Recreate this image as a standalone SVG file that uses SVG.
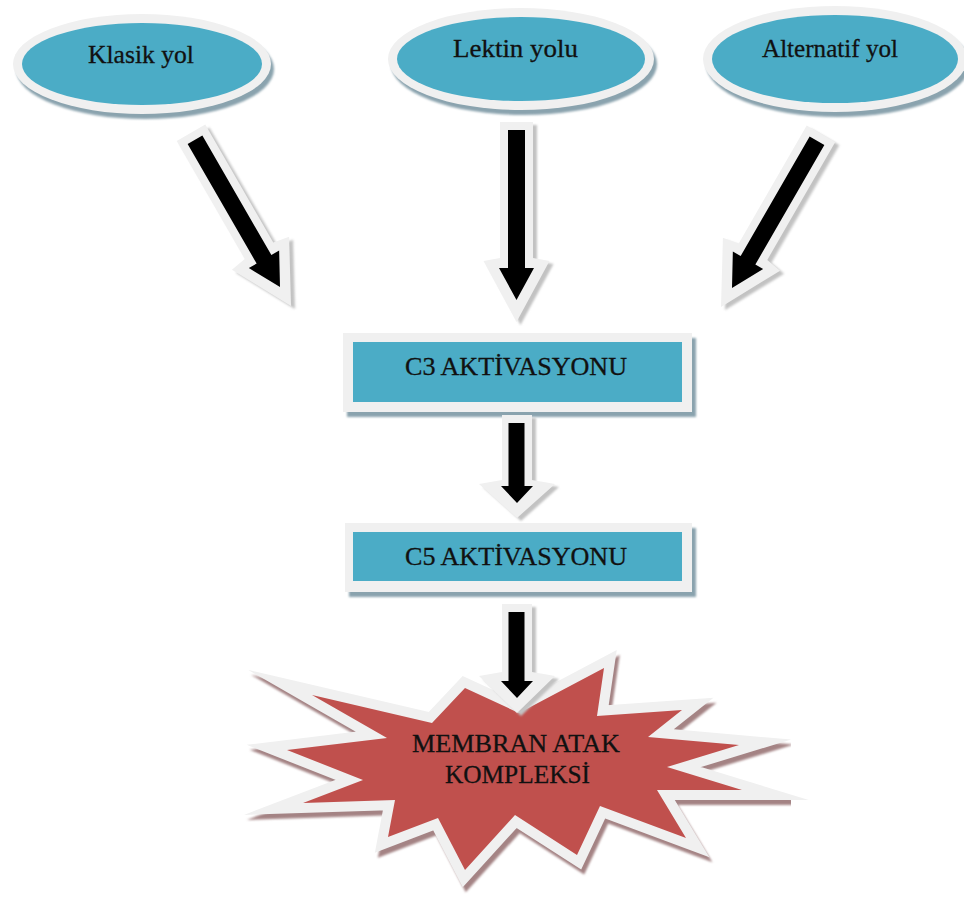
<svg xmlns="http://www.w3.org/2000/svg" width="964" height="897" viewBox="0 0 964 897">
  <style>
    .lbl { font-family: "Liberation Serif", "Times New Roman", serif; font-size: 25.5px; fill: #111; stroke: #111; stroke-width: 0.3; text-anchor: middle; }
    .rim { fill: #f0f0f0; }
    .blue { fill: #4bacc6; }
    .sh-blue { fill: #8aa3ae; }
    .sh-grey { fill: #c2c2c2; }
    .ink { fill: #000; }
    .star { fill: #c0504d; stroke: #f0f0f0; stroke-width: 20; stroke-linejoin: miter; stroke-miterlimit: 40; paint-order: stroke; }
    .star-sh { fill: #a48384; stroke: #a48384; stroke-width: 20; stroke-linejoin: miter; stroke-miterlimit: 40; }
  </style>
  <defs>
    <filter id="soft" x="-10%" y="-10%" width="120%" height="120%">
      <feGaussianBlur stdDeviation="0.8"/>
    </filter>
    <!-- long block arrow, origin at the black tip, pointing down -->
    <polygon id="longRim" points="-16.5,-178 16.5,-178 16.5,-42 33,-39 0,22 -33,-39 -16.5,-42"/>
    <polygon id="longInk" points="-8.5,-170 8.5,-170 8.5,-32 17.5,-32 0,0 -17.5,-32 -8.5,-32"/>
    <!-- star outline of the membrane attack complex -->
    <polygon id="burst" points="312,695 387,738 287,750 363,780 303,803 395,800 388,837 438,818 465,870 515,815 577,855 600,806 686,838 657,790 742,790 667,767 739,745 648,737 682,710 597,716 604,668 519,713 465,688 432,723"/>
  </defs>

  <rect x="0" y="0" width="964" height="897" fill="#fff"/>

  <!-- pathway ellipses -->
  <g id="klasik">
    <ellipse class="sh-blue" cx="145" cy="69" rx="129" ry="50" filter="url(#soft)"/>
    <ellipse class="rim" cx="142" cy="64" rx="129" ry="50"/>
    <ellipse class="blue" cx="142" cy="64" rx="120" ry="41"/>
    <text class="lbl" x="141" y="63" textLength="106" lengthAdjust="spacingAndGlyphs">Klasik yol</text>
  </g>
  <g id="lektin">
    <ellipse class="sh-blue" cx="524" cy="64" rx="133" ry="51" filter="url(#soft)"/>
    <ellipse class="rim" cx="521" cy="59" rx="133" ry="51"/>
    <ellipse class="blue" cx="521" cy="59" rx="124" ry="42"/>
    <text class="lbl" x="515.5" y="57" textLength="125" lengthAdjust="spacingAndGlyphs">Lektin yolu</text>
  </g>
  <g id="alternatif">
    <ellipse class="sh-blue" cx="838" cy="64" rx="132" ry="53" filter="url(#soft)"/>
    <ellipse class="rim" cx="835" cy="59" rx="132" ry="53"/>
    <ellipse class="blue" cx="835" cy="59" rx="123" ry="44"/>
    <text class="lbl" x="830" y="57" textLength="136" lengthAdjust="spacingAndGlyphs">Alternatif yol</text>
  </g>

  <!-- activation boxes -->
  <g id="c3">
    <rect class="sh-blue" x="347" y="338" width="349" height="79" filter="url(#soft)"/>
    <rect class="rim" x="343" y="333" width="349" height="79"/>
    <rect class="blue" x="353" y="342" width="329" height="60"/>
    <text class="lbl" x="516" y="375" textLength="222" lengthAdjust="spacingAndGlyphs">C3 AKTİVASYONU</text>
  </g>
  <g id="c5">
    <rect class="sh-blue" x="349" y="528" width="347" height="69" filter="url(#soft)"/>
    <rect class="rim" x="345" y="523" width="347" height="69"/>
    <rect class="blue" x="353" y="532" width="329" height="49"/>
    <text class="lbl" x="516" y="565" textLength="222" lengthAdjust="spacingAndGlyphs">C5 AKTİVASYONU</text>
  </g>

  <!-- membrane attack complex burst -->
  <g id="mac">
    <use href="#burst" class="star-sh" transform="translate(3,5)" filter="url(#soft)"/>
    <use href="#burst" class="star"/>
    <text class="lbl" x="516" y="752" textLength="208" lengthAdjust="spacingAndGlyphs">MEMBRAN ATAK</text>
    <text class="lbl" x="517.5" y="783" textLength="145" lengthAdjust="spacingAndGlyphs">KOMPLEKSİ</text>
  </g>

  <!-- connectors -->
  <g id="connectors">
    <g id="arrow-klasik">
      <use href="#longRim" class="sh-grey" transform="translate(284,290) rotate(-30)" filter="url(#soft)"/>
      <use href="#longRim" class="rim" transform="translate(280,287) rotate(-30)"/>
      <use href="#longInk" class="ink" transform="translate(280,287) rotate(-30)"/>
    </g>
    <g id="arrow-lektin">
      <use href="#longRim" class="sh-grey" transform="translate(520.5,303)" filter="url(#soft)"/>
      <use href="#longRim" class="rim" transform="translate(516.5,300)"/>
      <use href="#longInk" class="ink" transform="translate(516.5,300)"/>
    </g>
    <g id="arrow-alternatif">
      <use href="#longRim" class="sh-grey" transform="translate(736,291) rotate(30)" filter="url(#soft)"/>
      <use href="#longRim" class="rim" transform="translate(732,288) rotate(30)"/>
      <use href="#longInk" class="ink" transform="translate(732,288) rotate(30)"/>
    </g>
    <g id="arrow-c3-c5">
      <polygon class="sh-grey" transform="translate(4,3)" filter="url(#soft)" points="502,415 532,415 532,480 555,484 517,518 479,484 502,480"/>
      <polygon class="rim" points="502,415 532,415 532,480 555,484 517,518 479,484 502,480"/>
      <polygon class="ink" points="508.5,423 524.5,423 524.5,486 533,486 517,503 501,486 508.5,486"/>
    </g>
    <g id="arrow-c5-mac">
      <polygon class="sh-grey" transform="translate(4,3)" filter="url(#soft)" points="502,604 532,604 532,672 555,676 517,713 479,676 502,672"/>
      <polygon class="rim" points="502,604 532,604 532,672 555,676 517,713 479,676 502,672"/>
      <polygon class="ink" points="508.5,612 524.5,612 524.5,681 533,681 517,698 501,681 508.5,681"/>
    </g>
  </g>
</svg>
